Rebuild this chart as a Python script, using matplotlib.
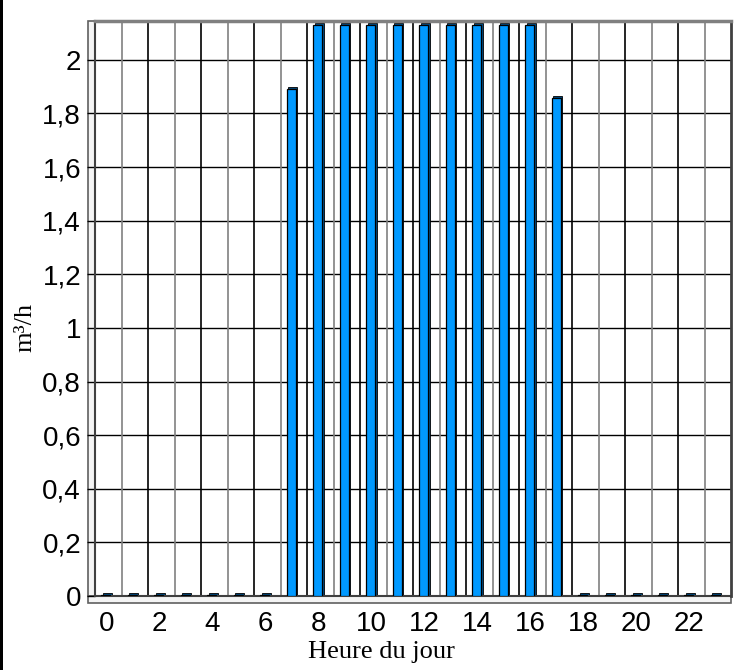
import numpy as np
import matplotlib
matplotlib.use('Agg')
from matplotlib import pyplot as plt
from matplotlib.patches import Rectangle

# donnees
heures = list(range(24))
debit = [0.005, 0.005, 0.005, 0.005, 0.005, 0.005, 0.005,
         1.89, 2.13, 2.13, 2.13, 2.13, 2.13, 2.13, 2.13, 2.13, 2.13,
         1.858,
         0.005, 0.005, 0.005, 0.005, 0.005, 0.005]
yticks = [0, 0.2, 0.4, 0.6, 0.8, 1.0, 1.2, 1.4, 1.6, 1.8, 2.0]
ytick_labels = ['0', '0,2', '0,4', '0,6', '0,8', '1', '1,2', '1,4', '1,6', '1,8', '2']
xticks = list(range(0, 24, 2))
xtick_labels = [str(h) for h in xticks]

W, H = 736, 670
fig = plt.figure(figsize=(W/100, H/100), dpi=100)
ax = fig.add_axes([95/W, 1-596/H, 636/W, (596-21)/H])

x = np.array(heures)
y = np.array(debit)
bleu = '#0099ff'
sombre = '#004a80'

# grille
for v in yticks[1:]:
    ax.axhline(v, color='black', lw=1, zorder=1)
for k in range(1, 24):
    c = 'black' if k % 2 == 0 else '#808080'
    ax.axvline(k - 0.5, color=c, lw=1.2, zorder=1)

# barres "3D": face laterale sombre puis face avant
ax.bar(x - 0.03, y + 0.008, width=0.34, color=sombre, edgecolor='black', lw=0.6, zorder=2)
ax.bar(x - 0.1, y, width=0.34, color=bleu, edgecolor='black', lw=0.9, zorder=3)

ax.set_xlim(-0.5, 23.5)
ax.set_ylim(0, 2.145)
ax.set_yticks(yticks)
ax.set_yticklabels(ytick_labels)
ax.set_xticks([t - 0.08 for t in xticks])
ax.set_xticklabels(xtick_labels)
for lab in ax.get_xticklabels() + ax.get_yticklabels():
    lab.set_family('Liberation Sans')
    lab.set_fontsize(20)
ax.tick_params(axis='x', length=0, pad=11)
ax.tick_params(axis='y', length=6, width=1, pad=4)

# murs et bords
ax.spines['top'].set_color('#808080')
ax.spines['top'].set_linewidth(2.5)
ax.spines['right'].set_color('#404040')
ax.spines['right'].set_linewidth(2)
ax.spines['left'].set_color('#404040')
ax.spines['left'].set_linewidth(1.5)
ax.spines['bottom'].set_color('#404040')
ax.spines['bottom'].set_linewidth(1.5)
ax.add_patch(Rectangle((-0.011, 0), 0.011, 1.0, transform=ax.transAxes, facecolor='#f4f4f4',
                       edgecolor='#606060', lw=1.2, clip_on=False, zorder=0))
ax.add_patch(Rectangle((-0.011, -0.012), 1.011, 0.012, transform=ax.transAxes, facecolor='#f4f4f4',
                       edgecolor='#606060', lw=1.2, clip_on=False, zorder=0))

fig.text(381/W, 1-652/H, 'Heure du jour', family='Liberation Serif', fontsize=19,
         ha='center', va='center')
fig.text(25/W, 1-327/H, 'm³/h', family='Liberation Serif', fontsize=19,
         ha='center', va='center', rotation=90)

fig.add_artist(Rectangle((0, 0), 3/W, 1, transform=fig.transFigure, facecolor='black', edgecolor='none'))

plt.savefig('out.png', dpi=100)
